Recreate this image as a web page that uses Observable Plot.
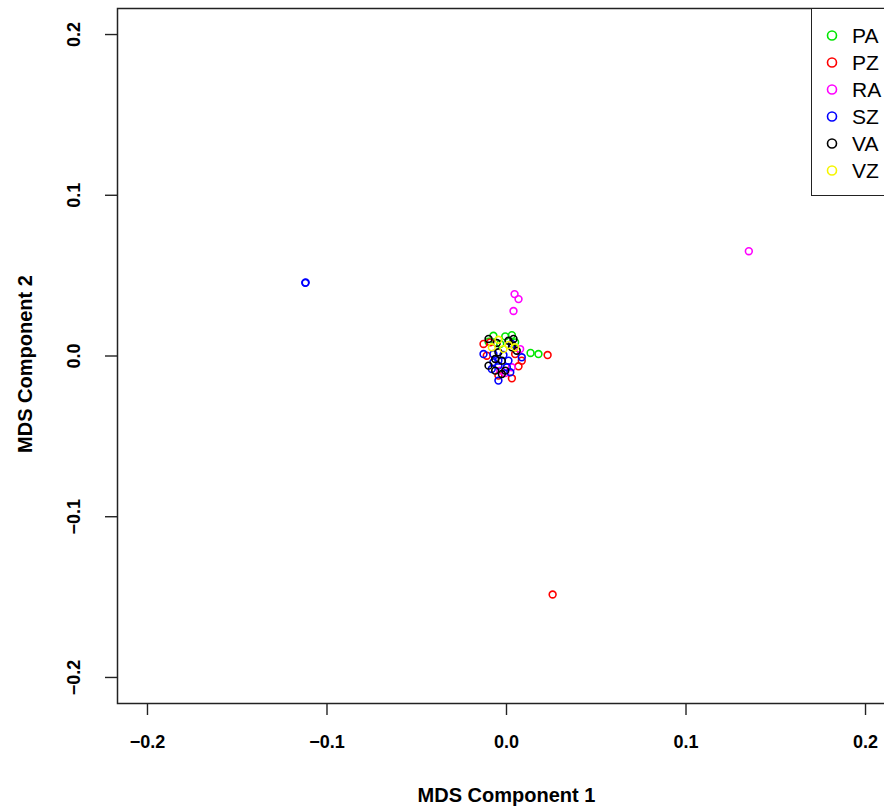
<!DOCTYPE html>
<html>
<head>
<meta charset="utf-8">
<script src="https://cdn.jsdelivr.net/npm/d3@7"></script>
<script src="https://cdn.jsdelivr.net/npm/@observablehq/plot@0.6"></script>
<style>
  html, body { margin: 0; padding: 0; background: #fff; overflow: hidden; }
  #wrap { position: relative; width: 896px; height: 810px; }
  #legend { position: absolute; left: 811px; top: 8px; width: 84px; height: 188px;
    border: 1.5px solid #222; background: #fff; box-sizing: border-box;
    font-family: "Liberation Sans", Arial, sans-serif; font-size: 21px; }
  .row { position: absolute; left: 0; height: 27px; }
</style>
</head>
<body>
<div id="wrap"></div>
<script>
// ---- data ----
const groups = ["PA", "PZ", "RA", "SZ", "VA", "VZ"];
const groupColors = ["#00e600", "#ff0000", "#ff00ff", "#0000ff", "#000000", "#f5f500"];
const xTicks = [-0.2, -0.1, 0.0, 0.1, 0.2];
const yTicks = [-0.2, -0.1, 0.0, 0.1, 0.2];

const paX = [-0.0073, 0.0030, -0.0007, -0.0100, 0.0048, -0.0035, 0.0134, 0.0178];
const paY = [0.0126, 0.0130, 0.0122, 0.0089, 0.0085, 0.0075, 0.0019, 0.0012];

const pzX = [-0.0128, -0.0110, 0.0048, 0.0067, 0.0030, -0.0045, 0.0085, -0.0091, 0.0229, 0.0257];
const pzY = [0.0075, 0.0002, 0.0012, -0.0064, -0.0139, -0.0122, -0.0029, 0.0085, 0.0006, -0.1484];

const raX = [0.0076, -0.0035, -0.0007, 0.0030, 0.0045, 0.0067, 0.0039, 0.1350];
const raY = [0.0043, -0.0091, -0.0106, -0.0070, 0.0385, 0.0354, 0.0280, 0.0652];

const szX = [-0.0128, -0.0073, -0.0017, -0.0045, 0.0011, -0.0045, 0.0002, -0.0082, 0.0021, -0.0045, 0.0085, -0.0073, 0.0030, -0.1121, -0.1119];
const szY = [0.0012, 0.0012, 0.0006, -0.0029, -0.0029, -0.0060, -0.0070, -0.0081, -0.0101, -0.0153, -0.0008, -0.0039, 0.0075, 0.0455, 0.0457];

const vaX = [-0.0100, -0.0054, 0.0011, 0.0039, 0.0030, -0.0063, -0.0026, -0.0007, -0.0063, -0.0026, -0.0100, -0.0045, 0.0057];
const vaY = [0.0106, 0.0081, 0.0095, 0.0106, 0.0054, -0.0019, -0.0029, -0.0091, -0.0091, -0.0112, -0.0060, 0.0023, 0.0033];

const vzX = [-0.0045, 0.0011, -0.0017, -0.0082, 0.0048];
const vzY = [0.0101, 0.0068, 0.0043, 0.0054, 0.0054];

// ---- build table ----
const series = [[paX, paY], [pzX, pzY], [raX, raY], [szX, szY], [vaX, vaY], [vzX, vzY]];
const points = [];
series.forEach(([xs, ys], gi) => xs.forEach((x, i) => points.push({group: groups[gi], x, y: ys[i]})));

const fmt = d3.format(".1f");
const font = "'Liberation Sans', Arial, sans-serif";

const chart = Plot.plot({
  width: 896,
  height: 810,
  marginLeft: 117,
  marginRight: 1,
  marginTop: 8,
  marginBottom: 107,
  style: {fontFamily: font, background: "#fff", color: "#000"},
  x: {domain: [-0.2167, 0.2167]},
  y: {domain: [-0.2162, 0.2162]},
  color: {domain: groups, range: groupColors},
  marks: [
    Plot.frame({stroke: "#222", strokeWidth: 1.5}),
    Plot.axisX(xTicks, {tickSize: 12, tickPadding: 20, tickFormat: fmt, fontSize: 18, fontWeight: "bold", stroke: "#222", strokeWidth: 1.4, label: null}),
    Plot.axisY(yTicks, {tickSize: 12, tickFormat: () => "", stroke: "#222", strokeWidth: 1.4, label: null}),
    Plot.text(yTicks, {y: d => d, text: d => fmt(d), frameAnchor: "left", textAnchor: "middle", dx: -43, rotate: -90, fontSize: 18, fontWeight: "bold"}),
    Plot.text(["MDS Component 1"], {text: d => d, frameAnchor: "bottom", textAnchor: "middle", dy: 98, fontSize: 20, fontWeight: "bold"}),
    Plot.text(["MDS Component 2"], {text: d => d, frameAnchor: "left", textAnchor: "middle", dx: -92, dy: 8, rotate: -90, fontSize: 20, fontWeight: "bold"}),
    Plot.dot(points, {x: "x", y: "y", stroke: "group", r: 3.4, strokeWidth: 1.6, fill: "none"})
  ]
});

const wrap = document.getElementById("wrap");
wrap.appendChild(chart);

// legend
const legend = document.createElement("div");
legend.id = "legend";
groups.forEach((g, i) => {
  const row = document.createElement("div");
  row.className = "row";
  row.style.top = (13 + i * 27) + "px";
  row.innerHTML = `<svg width="80" height="27" style="position:absolute;left:0;top:0">
    <circle cx="20" cy="13.5" r="4.5" fill="none" stroke="${groupColors[i]}" stroke-width="1.6"></circle>
    <text x="40" y="21" font-size="21" font-family="${font.replace(/'/g, "")}" fill="#000">${g}</text></svg>`;
  legend.appendChild(row);
});
wrap.appendChild(legend);
</script>
</body>
</html>
